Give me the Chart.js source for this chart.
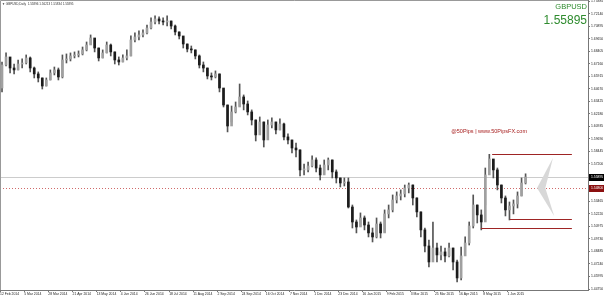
<!DOCTYPE html>
<html>
<head>
<meta charset="utf-8">
<script src="https://cdn.jsdelivr.net/npm/chart.js@4.4.1/dist/chart.umd.min.js"></script>
<style>
  html, body { margin: 0; padding: 0; background: #fff; }
  canvas { display: block; }
</style>
</head>
<body>
<canvas id="chart" width="604" height="297"></canvas>
<script>
// GBPUSD daily candles (sampled), Feb 2014 - Jun 2015
const firstOpen = 1.6475;
const closes = [
  1.6704, 1.6784, 1.6674, 1.6655, 1.6714, 1.6724, 1.6774, 1.6674, 1.6615, 1.6575,
  1.6495, 1.6555, 1.6625, 1.6655, 1.6585, 1.6754, 1.6764, 1.6794, 1.6804, 1.6814,
  1.6854, 1.6903, 1.6973, 1.6873, 1.6774, 1.6824, 1.6903, 1.6834, 1.6754, 1.6734,
  1.6774, 1.6794, 1.6953, 1.6983, 1.7003, 1.7023, 1.7072, 1.7132, 1.7162, 1.7142,
  1.7132, 1.7142, 1.7092, 1.7033, 1.6993, 1.6913, 1.6863, 1.6854, 1.6794, 1.6704,
  1.6674, 1.6595, 1.6585, 1.6615, 1.6475, 1.6306, 1.6097, 1.6237, 1.6286, 1.6386,
  1.6316, 1.6237, 1.6157, 1.6008, 1.6137, 1.5958, 1.6107, 1.6137, 1.6058, 1.6117,
  1.5988, 1.5958, 1.5878, 1.5859, 1.5660, 1.5660, 1.5699, 1.5759, 1.5679, 1.5610,
  1.5709, 1.5759, 1.5640, 1.5580, 1.5530, 1.5540, 1.5291, 1.5142, 1.5092, 1.5182,
  1.5112, 1.5033, 1.4993, 1.5122, 1.5033, 1.5222, 1.5262, 1.5361, 1.5401, 1.5421,
  1.5480, 1.5510, 1.5381, 1.5242, 1.5063, 1.4903, 1.4744, 1.4883, 1.4814, 1.4844,
  1.4804, 1.4883, 1.4744, 1.4585, 1.4804, 1.4933, 1.5102, 1.5311, 1.5212, 1.5142,
  1.5610, 1.5769, 1.5660, 1.5510, 1.5381, 1.5262, 1.5301, 1.5321, 1.5401, 1.5530,
  1.55895
];
const highs = [
  1.6734, 1.6824, 1.6754, 1.6714, 1.6754, 1.6764, 1.6804, 1.6784, 1.6684, 1.6635,
  1.6575, 1.6575, 1.6655, 1.6684, 1.6674, 1.6804, 1.6814, 1.6824, 1.6834, 1.6844,
  1.6883, 1.6933, 1.7003, 1.6953, 1.6873, 1.6854, 1.6933, 1.6913, 1.6834, 1.6784,
  1.6804, 1.6854, 1.6993, 1.7023, 1.7043, 1.7053, 1.7102, 1.7172, 1.7192, 1.7182,
  1.7172, 1.7192, 1.7142, 1.7102, 1.7033, 1.6983, 1.6913, 1.6893, 1.6854, 1.6804,
  1.6734, 1.6674, 1.6625, 1.6645, 1.6615, 1.6456, 1.6306, 1.6296, 1.6336, 1.6515,
  1.6406, 1.6346, 1.6257, 1.6157, 1.6187, 1.6137, 1.6157, 1.6177, 1.6137, 1.6167,
  1.6127, 1.6018, 1.5958, 1.5928, 1.5859, 1.5719, 1.5739, 1.5799, 1.5779, 1.5709,
  1.5759, 1.5779, 1.5759, 1.5660, 1.5580, 1.5580, 1.5580, 1.5311, 1.5162, 1.5232,
  1.5202, 1.5142, 1.5082, 1.5182, 1.5142, 1.5262, 1.5311, 1.5411, 1.5441, 1.5461,
  1.5510, 1.5530, 1.5510, 1.5381, 1.5242, 1.5082, 1.4963, 1.5142, 1.4933, 1.4903,
  1.4883, 1.4933, 1.4883, 1.4764, 1.4893, 1.4993, 1.5142, 1.5411, 1.5311, 1.5262,
  1.5679, 1.5815, 1.5759, 1.5679, 1.5510, 1.5401, 1.5341, 1.5361, 1.5441, 1.5580,
  1.56213
];
const lows = [
  1.6436, 1.6694, 1.6625, 1.6615, 1.6655, 1.6674, 1.6714, 1.6635, 1.6575, 1.6535,
  1.6465, 1.6495, 1.6555, 1.6605, 1.6555, 1.6575, 1.6724, 1.6744, 1.6774, 1.6784,
  1.6804, 1.6844, 1.6913, 1.6834, 1.6744, 1.6774, 1.6824, 1.6794, 1.6714, 1.6704,
  1.6734, 1.6754, 1.6794, 1.6933, 1.6953, 1.6983, 1.7013, 1.7062, 1.7112, 1.7112,
  1.7102, 1.7092, 1.7062, 1.7003, 1.6963, 1.6873, 1.6834, 1.6824, 1.6764, 1.6674,
  1.6635, 1.6565, 1.6555, 1.6575, 1.6436, 1.6286, 1.6038, 1.6137, 1.6227, 1.6296,
  1.6257, 1.6207, 1.6107, 1.5948, 1.6038, 1.5888, 1.6008, 1.6077, 1.6018, 1.6058,
  1.5958, 1.5918, 1.5829, 1.5789, 1.5600, 1.5610, 1.5640, 1.5689, 1.5640, 1.5560,
  1.5620, 1.5660, 1.5580, 1.5530, 1.5490, 1.5500, 1.5281, 1.5082, 1.5033, 1.5102,
  1.5063, 1.4993, 1.4943, 1.4983, 1.4983, 1.5043, 1.5182, 1.5242, 1.5331, 1.5361,
  1.5391, 1.5431, 1.5311, 1.5192, 1.4993, 1.4844, 1.4694, 1.4764, 1.4744, 1.4764,
  1.4744, 1.4794, 1.4665, 1.4545, 1.4565, 1.4814, 1.4913, 1.5082, 1.5132, 1.5063,
  1.5311, 1.5660, 1.5580, 1.5461, 1.5331, 1.5202, 1.5162, 1.5222, 1.5281, 1.5401,
  1.5520
];
const opens = closes.map((c, i) => i ? closes[i - 1] : firstOpen);

const dateLabels = [
  '12 Feb 2014', '5 Mar 2014', '28 Mar 2014', '21 Apr 2014', '13 May 2014', '4 Jun 2014',
  '26 Jun 2014', '18 Jul 2014', '11 Aug 2014', '2 Sep 2014', '24 Sep 2014', '16 Oct 2014',
  '7 Nov 2014', '1 Dec 2014', '23 Dec 2014', '16 Jan 2015', '9 Feb 2015', '3 Mar 2015',
  '25 Mar 2015', '16 Apr 2015', '8 May 2015', '1 Jun 2015'
];
const barsPerLabel = 6;
const priceTicks = [
  1.44750, 1.45995, 1.47240, 1.48485, 1.49730, 1.50975, 1.52220, 1.53465,
  1.54710, 1.55955, 1.57200, 1.58445, 1.59690, 1.60935, 1.62180, 1.63425,
  1.64670, 1.65915, 1.67160, 1.68405, 1.69650, 1.70895, 1.72140, 1.73385
];

const symbol = 'GBPUSD';
const header = '\u25BC GBPUSD,Daily  1.55896 1.56213 1.55834 1.55895';
const watermark = '@50Pips | www.50PipsFX.com';
const bidPrice = 1.55895;
const alertPrice = 1.54800;
// horizontal levels drawn on the chart: price, first bar, last bar
const levelPrices = [1.5815, 1.5172, 1.5082];
const levelFrom = [121.7, 126.1, 118.9];
const levelTo = 141.5;
// chevron marker: [bar, price]
const chevronUpper = [[136.8, 1.5779], [132.85, 1.5480], [134.9, 1.5480]];
const chevronLower = [[132.85, 1.5480], [137.1, 1.5201], [134.9, 1.5480]];

const upColor = '#a0a0a0';
const downColor = '#1c1c1c';
const fontFamily = '"Liberation Sans", Arial, sans-serif';

const overlay = {
  id: 'overlay',
  beforeDatasetsDraw(chart) {
    const {ctx, chartArea: a, scales: {y}} = chart;
    ctx.save();
    let py = Math.round(y.getPixelForValue(bidPrice)) + 0.5;
    ctx.strokeStyle = '#cccccc';
    ctx.lineWidth = 1;
    ctx.beginPath(); ctx.moveTo(a.left, py); ctx.lineTo(a.right, py); ctx.stroke();
    py = Math.round(y.getPixelForValue(alertPrice)) + 0.5;
    ctx.strokeStyle = '#d06a6a';
    ctx.setLineDash([1, 2]);
    ctx.beginPath(); ctx.moveTo(a.left, py); ctx.lineTo(a.right, py); ctx.stroke();
    ctx.restore();
  },
  afterDraw(chart) {
    const {ctx, chartArea: a, scales: {x, y}} = chart;
    ctx.save();
    // levels
    ctx.strokeStyle = '#9e2424';
    ctx.lineWidth = 1;
    levelPrices.forEach((p, k) => {
      const py = Math.round(y.getPixelForValue(p)) + 0.5;
      ctx.beginPath();
      ctx.moveTo(x.getPixelForValue(levelFrom[k]), py);
      ctx.lineTo(x.getPixelForValue(levelTo), py);
      ctx.stroke();
    });
    // chevron
    ctx.fillStyle = '#d8d8d8';
    [chevronUpper, chevronLower].forEach(pts => {
      ctx.beginPath();
      pts.forEach((p, k) => {
        const px = x.getPixelForValue(p[0]), py = y.getPixelForValue(p[1]);
        k ? ctx.lineTo(px, py) : ctx.moveTo(px, py);
      });
      ctx.closePath();
      ctx.fill();
    });
    // frame left / top
    ctx.strokeStyle = '#999';
    ctx.lineWidth = 1;
    ctx.beginPath();
    ctx.moveTo(0.5, a.bottom); ctx.lineTo(0.5, 0.5); ctx.lineTo(a.right, 0.5);
    ctx.stroke();
    // price boxes on the axis
    ctx.font = '3.4px ' + fontFamily;
    ctx.textBaseline = 'middle';
    ctx.textAlign = 'left';
    [[bidPrice, '#000000'], [alertPrice, '#8b1010']].forEach(([p, col]) => {
      const py = Math.round(y.getPixelForValue(p));
      ctx.fillStyle = col;
      ctx.fillRect(a.right + 1, py - 3, 16, 7);
      ctx.fillStyle = '#ffffff';
      ctx.fillText(p.toFixed(5), a.right + 3, py + 0.5);
    });
    // header
    ctx.fillStyle = '#333';
    ctx.font = '3px ' + fontFamily;
    ctx.fillText(header, 2, 4.5);
    // symbol and price
    ctx.fillStyle = '#2e8b2e';
    ctx.textAlign = 'right';
    ctx.textBaseline = 'alphabetic';
    ctx.font = '7.5px ' + fontFamily;
    ctx.fillText(symbol, a.right - 1, 9);
    ctx.font = '12px ' + fontFamily;
    ctx.fillText(bidPrice.toFixed(5), a.right - 1, 24);
    // watermark
    ctx.fillStyle = '#a82020';
    ctx.font = '5.5px ' + fontFamily;
    ctx.fillText(watermark, 527, 133);
    ctx.restore();
  }
};

new Chart(document.getElementById('chart'), {
  type: 'bar',
  data: {
    datasets: [
      {
        label: 'body',
        data: closes.map((c, i) => ({x: i, y: [opens[i], c]})),
        backgroundColor: c => closes[c.dataIndex] >= opens[c.dataIndex] ? upColor : downColor,
        barThickness: 2,
        minBarLength: 1,
        grouped: false,
        order: 0
      },
      {
        label: 'wick',
        data: closes.map((c, i) => ({x: i, y: [lows[i], highs[i]]})),
        backgroundColor: '#555555',
        barThickness: 1,
        grouped: false,
        order: 1
      }
    ]
  },
  options: {
    responsive: false,
    animation: false,
    layout: {padding: 0},
    plugins: {legend: {display: false}, tooltip: {enabled: false}},
    scales: {
      x: {
        type: 'linear',
        min: -0.5,
        max: 145.5,
        offset: false,
        afterBuildTicks: s => { s.ticks = dateLabels.map((d, k) => ({value: k * barsPerLabel - 0.5})); },
        afterFit: s => { s.height = 7; s.paddingLeft = 0; s.paddingRight = 0; },
        grid: {display: true, offset: false, drawOnChartArea: false, tickLength: 2, color: '#777'},
        border: {display: true, color: '#777'},
        ticks: {
          autoSkip: false, maxRotation: 0, align: 'start', padding: 0,
          color: '#222', font: {size: 3.4, family: fontFamily},
          callback: (v, k) => dateLabels[k]
        }
      },
      y: {
        position: 'right',
        min: 1.44651,
        max: 1.73506,
        afterBuildTicks: s => { s.ticks = priceTicks.map(v => ({value: v})); },
        afterFit: s => { s.width = 16; s.paddingTop = 0; s.paddingBottom = 0; },
        grid: {display: true, drawOnChartArea: false, tickLength: 2, color: '#777'},
        border: {display: true, color: '#777'},
        ticks: {
          autoSkip: false, padding: 1,
          color: '#222', font: {size: 3.4, family: fontFamily},
          callback: v => v.toFixed(5)
        }
      }
    }
  },
  plugins: [overlay]
});
</script>
</body>
</html>
